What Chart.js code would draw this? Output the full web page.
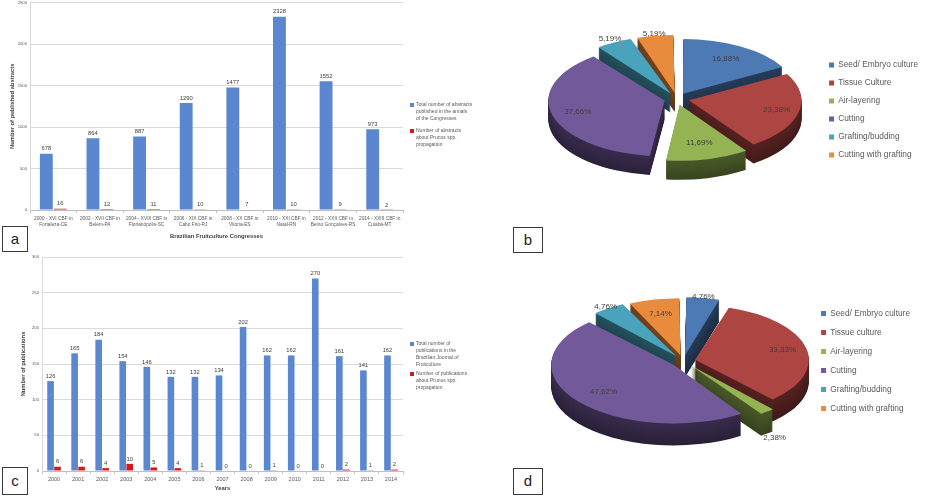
<!DOCTYPE html>
<html>
<head>
<meta charset="utf-8">
<title>Prunus propagation publications</title>
<script src="https://cdn.jsdelivr.net/npm/chart.js@4.4.1/dist/chart.umd.min.js"></script>
<style>
  html, body { margin: 0; padding: 0; background: #fff; }
  body { position: relative; width: 946px; height: 502px; overflow: hidden; }
  .box { position: absolute; }
  .tag { position: absolute; box-sizing: border-box; border: 1px solid #3a3a3a; background: #fff;
         font: 15px "Liberation Sans", Arial, sans-serif; color: #222; text-align: center; }
</style>
</head>
<body>
<div class="box" style="left:0;top:-3px;width:480px;height:253px"><canvas id="congresses"></canvas></div>
<div class="box" style="left:0;top:250px;width:480px;height:252px"><canvas id="journal"></canvas></div>
<div class="box" style="left:490px;top:0;width:456px;height:250px"><canvas id="congressMethods"></canvas></div>
<div class="box" style="left:490px;top:250px;width:456px;height:252px"><canvas id="journalMethods"></canvas></div>
<div class="tag" style="left:2px;top:226px;width:26px;height:26px;line-height:23px">a</div>
<div class="tag" style="left:513px;top:227px;width:30px;height:26px;line-height:23px">b</div>
<div class="tag" style="left:2px;top:467px;width:26px;height:28px;line-height:25px">c</div>
<div class="tag" style="left:513px;top:468px;width:30px;height:27px;line-height:24px">d</div>
<script>
// panel a - congresses
const congressLabels = [
  ["2000 - XVI CBF in", "Fortaleza-CE"],
  ["2002 - XVII CBF in", "Belém-PA"],
  ["2004 - XVIII CBF in", "Florianópolis-SC"],
  ["2006 - XIX CBF in", "Cabo Frio-RJ"],
  ["2008 - XX CBF in", "Vitória-ES"],
  ["2010 - XXI CBF in", "Natal-RN"],
  ["2012 - XXII CBF in", "Bento Gonçalves-RS"],
  ["2014 - XXIII CBF in", "Cuiabá-MT"]
];
const congressTotals = [678, 864, 887, 1290, 1477, 2328, 1552, 973];
const congressPrunus = [16, 12, 11, 10, 7, 10, 9, 2];
const congressTicks = [0, 500, 1000, 1500, 2000, 2500];

// panel c - journal
const years = ["2000", "2001", "2002", "2003", "2004", "2005", "2006", "2007",
               "2008", "2009", "2010", "2011", "2012", "2013", "2014"];
const journalTotals = [126, 165, 184, 154, 146, 132, 132, 134, 202, 162, 162, 270, 161, 141, 162];
const journalPrunus = [6, 6, 4, 10, 5, 4, 1, 0, 0, 1, 0, 0, 2, 1, 2];
const journalTicks = [0, 50, 100, 150, 200, 250, 300];

// panels b and d - propagation methods (%)
const methodsB = ["Seed/ Embryo culture", "Tissue Culture", "Air-layering", "Cutting", "Grafting/budding", "Cutting with grafting"];
const methodShareB = [16.88, 23.38, 11.69, 37.66, 5.19, 5.19];
const methodsD = ["Seed/ Embryo culture", "Tissue culture", "Air-layering", "Cutting", "Grafting/budding", "Cutting with grafting"];
const methodShareD = [4.76, 33.33, 2.38, 47.62, 4.76, 7.14];

const fontFamily = '"Liberation Sans", Arial, sans-serif';
Chart.defaults.font.family = fontFamily;
Chart.defaults.color = '#595959';

const blue = '#5a87d0';
const red = '#d7191c';
const pieColors = ['#4d7ab4', '#ad4543', '#94b352', '#72599a', '#49a3bd', '#e98b3c'];

function shade(hex, f) {
  const n = parseInt(hex.slice(1), 16);
  const r = Math.round(((n >> 16) & 255) * f);
  const g = Math.round(((n >> 8) & 255) * f);
  const b = Math.round((n & 255) * f);
  return 'rgb(' + r + ',' + g + ',' + b + ')';
}

// numbers on top of the bars
const barValues = {
  id: 'barValues',
  afterDatasetsDraw(chart, args, opts) {
    const ctx = chart.ctx;
    ctx.save();
    ctx.font = opts.size + 'px ' + fontFamily;
    ctx.fillStyle = '#404040';
    ctx.textAlign = 'center';
    ctx.textBaseline = 'bottom';
    chart.data.datasets.forEach((ds, i) => {
      chart.getDatasetMeta(i).data.forEach((bar, j) => {
        ctx.fillText(ds.data[j], bar.x, bar.y - 2);
      });
    });
    ctx.restore();
  }
};

// legend with wrapped lines, right of the plot
const sideLegend = {
  id: 'sideLegend',
  afterDraw(chart, args, opts) {
    const ctx = chart.ctx;
    const x = chart.chartArea.right + opts.gapX;
    let y = opts.top;
    ctx.save();
    ctx.font = opts.size + 'px ' + fontFamily;
    ctx.textBaseline = 'middle';
    chart.data.datasets.forEach(ds => {
      const lines = ds.label.split('\n');
      ctx.fillStyle = ds.backgroundColor;
      ctx.fillRect(x, y - 2, 4, 4);
      ctx.fillStyle = '#595959';
      lines.forEach((line, k) => ctx.fillText(line, x + 6, y + k * opts.lineHeight));
      y += lines.length * opts.lineHeight + opts.itemGap;
    });
    ctx.restore();
  }
};

// flattened, exploded pie with a side wall
const pie3d = {
  id: 'pie3d',
  beforeDatasetsDraw(chart, args, o) {
    const ctx = chart.ctx;
    const arcs = chart.getDatasetMeta(0).data;
    const cx = arcs[0].x, cy = arcs[0].y;
    ctx.save();
    ctx.translate(cx + o.dx, cy + o.dy);
    ctx.scale(o.k, o.k * o.tilt);
    ctx.translate(-cx, -cy);
    const step = 1 / (o.k * o.tilt);
    for (let d = o.depth; d >= 1; d--) {
      ctx.save();
      ctx.translate(0, d * step);
      arcs.forEach((arc, i) => {
        const opt = arc.options;
        const bg = opt.backgroundColor;
        opt.backgroundColor = shade(pieColors[i], 0.5 - d * 0.006);
        arc.draw(ctx);
        opt.backgroundColor = bg;
      });
      ctx.restore();
    }
  },
  afterDatasetsDraw(chart, args, o) {
    const ctx = chart.ctx;
    ctx.restore();
    const arcs = chart.getDatasetMeta(0).data;
    const values = chart.data.datasets[0].data;
    const cx = arcs[0].x, cy = arcs[0].y;
    const project = (arc, f) => {
      const mid = (arc.startAngle + arc.endAngle) / 2;
      const r = arc.outerRadius * f + (arc.options.offset || 0) / 4;
      const x = cx + Math.cos(mid) * r;
      const y = cy + Math.sin(mid) * r;
      let Y = cy + o.dy + o.k * o.tilt * (y - cy);
      if (f > 1 && Math.sin(mid) > 0) Y += o.depth;
      return { x: cx + o.dx + o.k * (x - cx), y: Y };
    };
    ctx.save();
    ctx.font = '8px ' + fontFamily;
    ctx.fillStyle = '#404040';
    ctx.strokeStyle = '#8c8c8c';
    ctx.lineWidth = 0.8;
    ctx.textAlign = 'center';
    ctx.textBaseline = 'middle';
    arcs.forEach((arc, i) => {
      const p = project(arc, o.labelRadius[i]);
      if ((o.leaders || []).includes(i)) {
        const q = project(arc, 0.97);
        ctx.beginPath();
        ctx.moveTo(p.x + 13, p.y + 1);
        ctx.lineTo(q.x, q.y);
        ctx.stroke();
      }
      ctx.fillText(values[i].toFixed(2).replace('.', ',') + '%', p.x, p.y);
    });
    ctx.restore();
  }
};

function barChart(id, labels, totals, prunus, ticks, cfg) {
  return new Chart(document.getElementById(id), {
    type: 'bar',
    data: {
      labels: labels,
      datasets: [
        { label: cfg.totalLabel, data: totals, backgroundColor: blue,
          categoryPercentage: cfg.catPct, barPercentage: cfg.barPct },
        { label: cfg.prunusLabel, data: prunus, backgroundColor: red,
          categoryPercentage: cfg.catPct, barPercentage: cfg.barPct }
      ]
    },
    options: {
      responsive: true,
      maintainAspectRatio: false,
      animation: false,
      events: [],
      layout: { padding: cfg.padding },
      plugins: {
        legend: { display: false },
        tooltip: { enabled: false },
        barValues: { size: 5.8 },
        sideLegend: cfg.legend
      },
      scales: {
        x: {
          grid: { drawOnChartArea: false, tickLength: 3, color: '#bfbfbf' },
          border: { color: '#bfbfbf' },
          ticks: { font: { size: cfg.xTickSize, lineHeight: 1.4 }, color: '#595959',
                   maxRotation: 0, autoSkip: false, padding: 2 },
          title: { display: true, text: cfg.xTitle, color: '#404040',
                   font: { size: 5.8, weight: 'bold' }, padding: 0 },
          afterFit: s => { s.height = cfg.xHeight; }
        },
        y: {
          min: ticks[0],
          max: ticks[ticks.length - 1],
          ticks: { stepSize: ticks[1] - ticks[0], font: { size: 4.2 }, color: '#595959', padding: 3,
                   callback: v => String(v) },
          grid: { color: '#d9d9d9', drawTicks: false },
          border: { color: '#d9d9d9' },
          title: { display: true, text: cfg.yTitle, color: '#404040',
                   font: { size: 5.8, weight: 'bold' }, padding: { top: cfg.yTitlePad, bottom: 0 } },
          afterFit: s => { s.width = cfg.yWidth; }
        }
      }
    },
    plugins: [barValues, sideLegend]
  });
}

barChart('congresses', congressLabels, congressTotals, congressPrunus, congressTicks, {
  totalLabel: 'Total number of abstracts\npublished in the annals\nof the Congresses',
  prunusLabel: 'Number of abstracts\nabout Prunus spp.\npropagation',
  catPct: 0.6, barPct: 0.92,
  padding: { left: 0, right: 77, top: 0, bottom: 10 },
  legend: { gapX: 7, top: 108, size: 5, lineHeight: 7, itemGap: 5 },
  xTickSize: 4.8, xHeight: 30, xTitle: 'Brazilian Fruitculture Congresses',
  yTitle: 'Number of published abstracts', yTitlePad: 8.5, yWidth: 30
});

barChart('journal', years, journalTotals, journalPrunus, journalTicks, {
  totalLabel: 'Total number of\npublications in the\nBrazilian Journal of\nFruitculture',
  prunusLabel: 'Number of publications\nabout Prunus spp.\npropagation',
  catPct: 0.58, barPct: 0.95,
  padding: { left: 0, right: 77, top: 7, bottom: 10 },
  legend: { gapX: 7, top: 94, size: 5, lineHeight: 7, itemGap: 2 },
  xTickSize: 5.5, xHeight: 21, xTitle: 'Years',
  yTitle: 'Number of publications', yTitlePad: 19.5, yWidth: 42
});

function pieChart(id, labels, shares, cfg) {
  return new Chart(document.getElementById(id), {
    type: 'pie',
    data: {
      labels: labels,
      datasets: [{ data: shares, backgroundColor: pieColors, borderWidth: 0, offset: 40, hoverOffset: 0 }]
    },
    options: {
      responsive: true,
      maintainAspectRatio: false,
      animation: false,
      events: [],
      layout: { padding: cfg.padding },
      plugins: {
        legend: {
          position: 'right',
          labels: { boxWidth: 5, boxHeight: 5, padding: cfg.legendPad,
                    font: { size: 8.3 }, color: '#595959' }
        },
        tooltip: { enabled: false },
        pie3d: cfg.view
      }
    },
    plugins: [pie3d]
  });
}

pieChart('congressMethods', methodsB, methodShareB, {
  padding: { left: 40, right: 18, top: 0, bottom: 30 },
  legendPad: 9.7,
  view: { tilt: 0.48, k: 1.25, dx: 2, dy: -11, depth: 19, leaders: [4],
          labelRadius: [0.75, 0.8, 0.72, 0.8, 1.15, 1.12] }
});

pieChart('journalMethods', methodsD, methodShareD, {
  padding: { left: 40, right: 26, top: 0, bottom: 30 },
  legendPad: 10.7,
  view: { tilt: 0.48, k: 1.23, dx: 13, dy: 0, depth: 22,
          labelRadius: [1.1, 0.8, 1.2, 0.8, 1.12, 0.8] }
});
</script>
</body>
</html>
